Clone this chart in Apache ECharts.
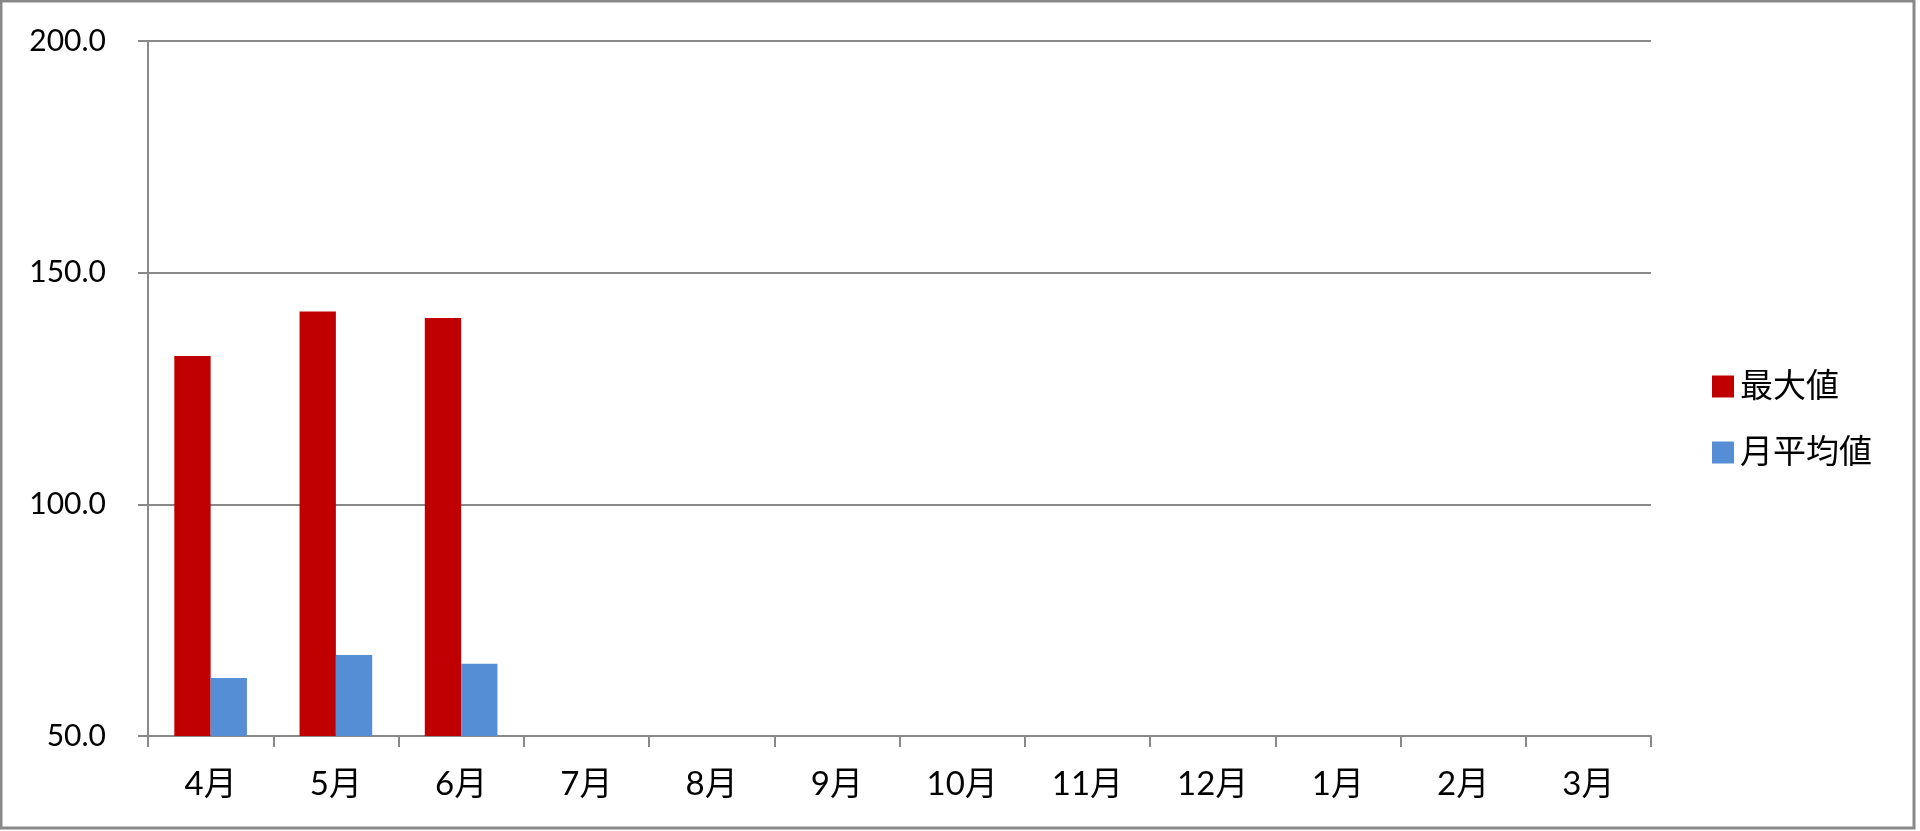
<!DOCTYPE html>
<html>
<head>
<meta charset="utf-8">
<title>最大値・月平均値</title>
<script src="https://cdn.jsdelivr.net/npm/echarts@6/dist/echarts.min.js"></script>
<style>
  html, body { margin: 0; padding: 0; background: #fff; }
  #main { width: 1920px; height: 831px; }
</style>
</head>
<body>
<div id="main"></div>
<script>
// data
var months = ['4月', '5月', '6月', '7月', '8月', '9月', '10月', '11月', '12月', '1月', '2月', '3月'];
var maxValues = [132.0, 141.6, 140.2, null, null, null, null, null, null, null, null, null];
var avgValues = [62.5, 67.5, 65.6, null, null, null, null, null, null, null, null, null];
var yTicks = [50, 100, 150, 200];

var chart = echarts.init(document.getElementById('main'));

var axisGray = '#898989';
var fontFamily = 'Lato, "Noto Sans CJK JP", sans-serif';

var option = {
  backgroundColor: '#fff',
  animation: false,
  grid: {
    left: 148,
    top: 41,
    right: 269,
    bottom: 95
  },
  graphic: [{
    type: 'rect',
    shape: { x: 1, y: 1, width: 1913, height: 827 },
    style: { fill: 'none', stroke: axisGray, lineWidth: 3 },
    silent: true
  }],
  legend: {
    orient: 'vertical',
    left: 1707,
    top: 365,
    itemWidth: 22,
    itemHeight: 22,
    itemGap: 33,
    icon: 'rect',
    textStyle: {
      fontFamily: fontFamily,
      fontSize: 33,
      color: '#000',
      lineHeight: 32,
      padding: [0, 0, 0, 1]
    },
    data: ['最大値', '月平均値']
  },
  xAxis: {
    type: 'category',
    data: months,
    boundaryGap: true,
    axisLine: { lineStyle: { color: axisGray, width: 2 } },
    axisTick: { show: true, length: 11, lineStyle: { color: axisGray, width: 2 } },
    axisLabel: {
      margin: 32,
      fontFamily: fontFamily,
      fontSize: 33,
      color: '#000'
    }
  },
  yAxis: {
    type: 'value',
    min: yTicks[0],
    max: yTicks[yTicks.length - 1],
    interval: 50,
    axisLine: { show: true, lineStyle: { color: axisGray, width: 2 } },
    axisTick: { show: true, length: 10, lineStyle: { color: axisGray, width: 2 } },
    splitLine: { show: true, lineStyle: { color: axisGray, width: 2 } },
    axisLabel: {
      margin: 42,
      fontFamily: fontFamily,
      fontSize: 30,
      color: '#000',
      formatter: function (v) { return v.toFixed(1); }
    }
  },
  series: [{
    name: '最大値',
    type: 'bar',
    data: maxValues,
    barGap: '0%',
    barCategoryGap: '42%',
    itemStyle: { color: '#C00000' }
  }, {
    name: '月平均値',
    type: 'bar',
    data: avgValues,
    barGap: '0%',
    barCategoryGap: '42%',
    itemStyle: { color: '#558ED5' }
  }]
};

chart.setOption(option);
</script>
</body>
</html>
